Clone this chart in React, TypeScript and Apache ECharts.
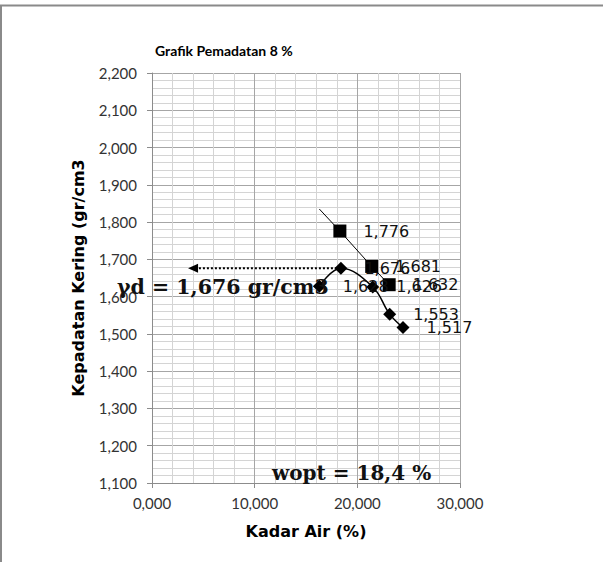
import React, { useEffect, useRef } from "react";
import * as echarts from "echarts";

// Zero-air-voids style line (squares)
const zavX = [16.3, 18.3, 21.4, 23.1];
const zavY = [1.835, 1.776, 1.681, 1.632];
// Compaction curve (diamonds)
const densX = [16.3, 18.4, 21.5, 23.15, 24.45];
const densY = [1.628, 1.676, 1.626, 1.553, 1.517];
// Arrow from optimum point to the y-axis side
const arrowX = [18.4, 4.0];
const arrowY = [1.676, 1.676];

const titleText = "Grafik Pemadatan 8 %";
const xName = "Kadar Air (%)";
const yName = "Kepadatan Kering (gr/cm3";
const gdText = "γd = 1,676 gr/cm3";
const woptText = "wopt = 18,4 %";

const fmt = (v: number) => v.toFixed(3).replace(".", ",");

export default function App() {
  const ref = useRef<HTMLDivElement>(null);
  useEffect(() => {
    if (!ref.current) return;
    const chart = echarts.init(ref.current, null, { renderer: "svg" });
    const labelStyle = {
      show: true,
      position: "right",
      distance: 17,
      fontFamily: "DejaVu Sans",
      fontSize: 16,
      color: "#111",
      formatter: (p: any) => fmt(p.value[1]),
    };
    chart.setOption({
      animation: false,
      backgroundColor: "#fff",
      title: {
        text: titleText,
        left: 150,
        top: 38,
        textStyle: { fontFamily: "Lato", fontWeight: "bold", fontSize: 14, color: "#000" },
      },
      grid: { left: 152, right: 143, top: 73, bottom: 79, containLabel: false },
      xAxis: {
        type: "value",
        min: 0,
        max: 30,
        interval: 10,
        name: xName,
        nameLocation: "middle",
        nameGap: 40,
        nameTextStyle: { fontFamily: "DejaVu Sans", fontWeight: "bold", fontSize: 16, color: "#000" },
        axisLine: { show: true, lineStyle: { color: "#8c8c8c", width: 1 } },
        axisTick: { show: true, length: 5, lineStyle: { color: "#8c8c8c" } },
        axisLabel: { formatter: fmt, fontFamily: "Lato", fontSize: 15, color: "#333", margin: 12 },
        splitLine: { show: true, lineStyle: { color: "#a6a6a6", width: 1 } },
        minorTick: { show: false, splitNumber: 5 },
        minorSplitLine: { show: true, lineStyle: { color: "#d4d4d4", width: 1 } },
      },
      yAxis: {
        type: "value",
        min: 1.1,
        max: 2.2,
        interval: 0.1,
        name: yName,
        nameLocation: "middle",
        nameGap: 66,
        nameTextStyle: { fontFamily: "DejaVu Sans", fontWeight: "bold", fontSize: 16, color: "#000" },
        axisLine: { show: true, lineStyle: { color: "#8c8c8c", width: 1 } },
        axisTick: { show: true, length: 5, lineStyle: { color: "#8c8c8c" } },
        axisLabel: { formatter: fmt, fontFamily: "Lato", fontSize: 15, color: "#333", margin: 15 },
        splitLine: { show: true, lineStyle: { color: "#a6a6a6", width: 1 } },
        minorTick: { show: false, splitNumber: 5 },
        minorSplitLine: { show: true, lineStyle: { color: "#d4d4d4", width: 1 } },
      },
      series: [
        {
          type: "line",
          data: arrowX.map((x, i) => [x, arrowY[i]]),
          symbol: "none",
          lineStyle: { color: "#000", width: 2, type: [2, 2] },
          z: 1,
          silent: true,
          markLine: {
            silent: true,
            symbol: ["none", "triangle"],
            symbolSize: [9, 10],
            label: { show: false },
            lineStyle: { color: "#000", width: 0.01, type: "solid", opacity: 1 },
            data: [[{ coord: [arrowX[0], arrowY[0]] }, { coord: [arrowX[1], arrowY[1]] }]],
          },
        },
        {
          type: "line",
          data: zavX.map((x, i) =>
            i === 0
              ? { value: [x, zavY[i]], symbol: "none", label: { show: false } }
              : { value: [x, zavY[i]] }
          ),
          symbol: "rect",
          symbolSize: 13,
          itemStyle: { color: "#000" },
          lineStyle: { color: "#000", width: 1 },
          label: labelStyle,
          z: 3,
        },
        {
          type: "line",
          data: densX.map((x, i) => [x, densY[i]]),
          smooth: 0.4,
          symbol: "diamond",
          symbolSize: 13,
          itemStyle: { color: "#000" },
          lineStyle: { color: "#000", width: 1.5 },
          label: labelStyle,
          z: 4,
        },
      ],
      graphic: [
        { type: "line", shape: { x1: 0, y1: 5.5, x2: 603, y2: 5.5 }, style: { stroke: "#8a8a8a", lineWidth: 2 } },
        { type: "line", shape: { x1: 1, y1: 5, x2: 1, y2: 562 }, style: { stroke: "#8a8a8a", lineWidth: 2 } },
        {
          type: "text",
          x: 117,
          y: 287,
          z: 10,
          style: {
            text: gdText,
            font: "bold 20.5px 'DejaVu Serif'",
            fill: "#111",
            align: "left",
            verticalAlign: "middle",
          },
        },
        {
          type: "text",
          x: 272,
          y: 473,
          z: 10,
          style: {
            text: woptText,
            font: "bold 20px 'DejaVu Serif'",
            fill: "#111",
            align: "left",
            verticalAlign: "middle",
          },
        },
      ],
    });
    return () => chart.dispose();
  }, []);
  return (
    <div
      ref={ref}
      style={{ position: "absolute", left: 0, top: 0, width: 603, height: 562, background: "#fff" }}
    />
  );
}
